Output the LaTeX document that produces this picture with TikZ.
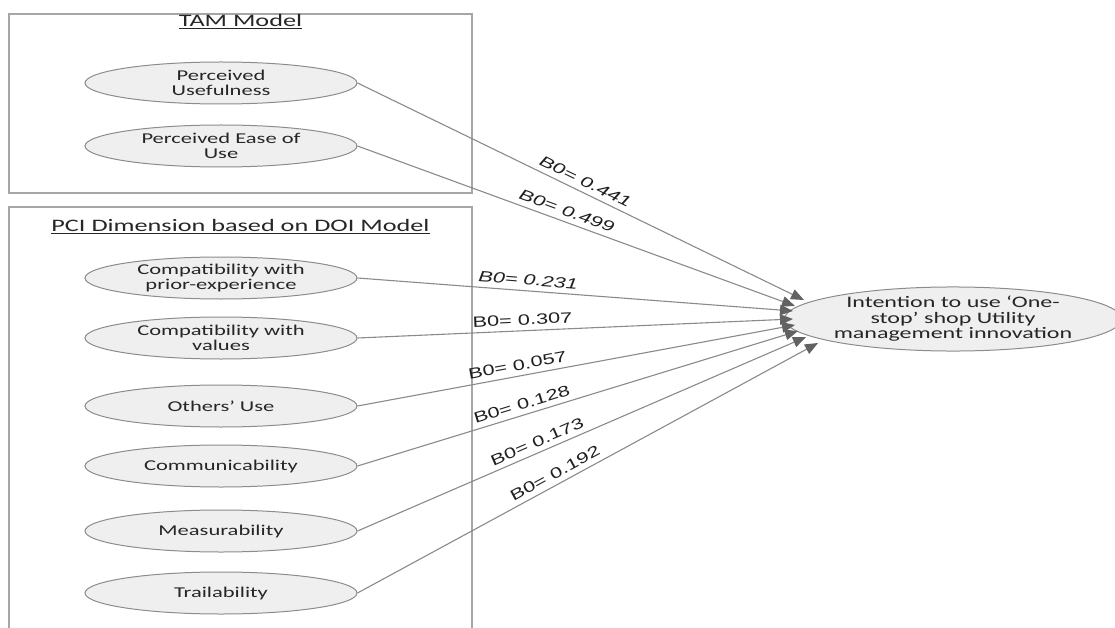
\documentclass[tikz,border=0pt]{standalone}
\usepackage{fontspec}
\setmainfont{Carlito}[FakeStretch=1.5]
\newfontfamily\labfont{Liberation Sans}[FakeStretch=1.45]
\usetikzlibrary{shapes.geometric,arrows.meta}
\definecolor{boxc}{HTML}{A6A6A6}
\definecolor{ellfill}{HTML}{EFEFEF}
\definecolor{elldraw}{HTML}{8C8C8C}
\definecolor{linec}{HTML}{8A8A8A}
\definecolor{tipc}{HTML}{626262}
\definecolor{txtc}{HTML}{262626}
\tikzset{
  frame/.style={draw=boxc, line width=1.2pt},
  ell/.style={ellipse, draw=elldraw, fill=ellfill, line width=1pt,
    minimum width=272pt, minimum height=42pt, inner sep=0pt, align=center,
    text=txtc, font=\fontsize{15}{15.5}\selectfont},
  target/.style={ell, minimum width=320pt, minimum height=64pt,
    font=\fontsize{16}{15.5}\selectfont},
  title/.style={anchor=base, text=txtc, font=\fontsize{17.5}{18}\selectfont, inner sep=0pt},
  conn/.style={draw=linec, line width=1.1pt,
    -{Triangle[length=13pt,width=10.5pt,fill=tipc,color=tipc]}},
  lab/.style={sloped, above=4pt, inner sep=1pt, text=black!88,
    font=\labfont\fontsize{15}{15}\selectfont},
  labi/.style={lab, font=\labfont\itshape\fontsize{15}{15}\selectfont}
}
\begin{document}
\begin{tikzpicture}[x=1pt,y=-1pt]
\useasboundingbox (0,0) rectangle (1115,628);
% frames
\draw[frame] (9,14) rectangle (472,193);
\draw[frame] (9,640) -- (9,207) -- (472,207) -- (472,640);
\node[title] (tamt) at (240.5,27) {\underline{TAM Model}};
\node[title] (pcit) at (240.5,232) {\underline{PCI Dimension based on DOI Model}};
% source ellipses
\node[ell] (pu) at (221,83) {Perceived\\Usefulness};
\node[ell] (pe) at (221,146) {Perceived Ease of\\Use};
\node[ell] (c1) at (221,278) {Compatibility with\\prior-experience};
\node[ell] (c2) at (221,338) {Compatibility with\\values};
\node[ell] (ou) at (221,406) {Others’ Use};
\node[ell] (co) at (221,466) {Communicability};
\node[ell] (me) at (221,531) {Measurability};
\node[ell] (tr) at (221,593) {Trailability};
% target
\node[target] (tg) at (953,319) {Intention to use ‘One-\\stop’ shop Utility\\management innovation};
% arrow tips
\coordinate (t1) at (804,300);
\coordinate (t2) at (795,306);
\coordinate (t3) at (793,311);
\coordinate (t4) at (793,319);
\coordinate (t5) at (795,325);
\coordinate (t6) at (798,331);
\coordinate (t7) at (806,337);
\coordinate (t8) at (818,343);
% connectors
\draw[conn] (pu.east) -- node[labi, pos=0.50] (l1) {B0= 0.441} (t1);
\draw[conn] (pe.east) -- node[labi, pos=0.47] (l2) {B0= 0.499} (t2);
\draw[conn] (c1.east) -- node[labi, pos=0.39] (l3) {B0= 0.231} (t3);
\draw[conn] (c2.east) -- node[lab, pos=0.38] (l4) {B0= 0.307} (t4);
\draw[conn] (ou.east) -- node[lab, pos=0.37] (l5) {B0= 0.057} (t5);
\draw[conn] (co.east) -- node[lab, pos=0.38] (l6) {B0= 0.128} (t6);
\draw[conn] (me.east) -- node[lab, pos=0.41] (l7) {B0= 0.173} (t7);
\draw[conn] (tr.east) -- node[lab, pos=0.44] (l8) {B0= 0.192} (t8);
\end{tikzpicture}
\end{document}
